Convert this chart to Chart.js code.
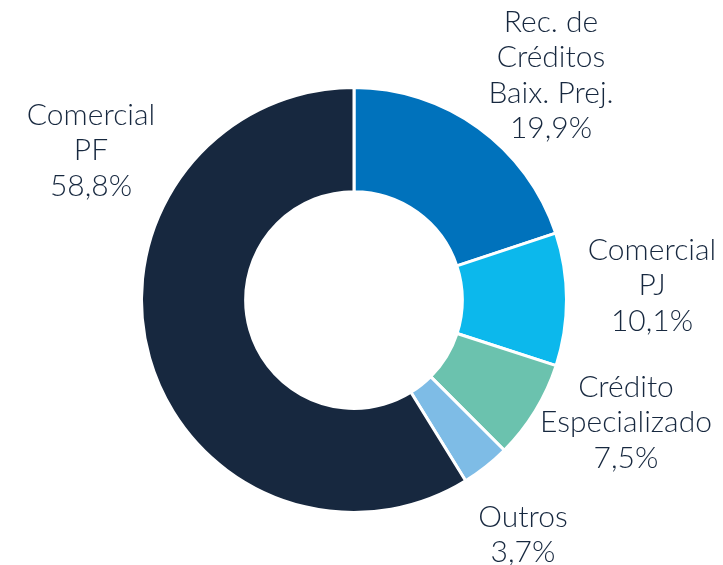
<!DOCTYPE html>
<html>
<head>
<meta charset="utf-8">
<script src="https://cdn.jsdelivr.net/npm/chart.js@4/dist/chart.umd.min.js"></script>
<style>
  html, body { margin: 0; padding: 0; background: #fff; }
  #wrap { width: 723px; height: 565px; }
</style>
</head>
<body>
<div id="wrap"><canvas id="donut" width="723" height="565"></canvas></div>
<script>
// data, clockwise from 12 o'clock
const categories = ['Rec. de Créditos Baix. Prej.', 'Comercial PJ', 'Crédito Especializado', 'Outros', 'Comercial PF'];
const shares = [19.9, 10.1, 7.5, 3.7, 58.8];
const labelLines = [
    ['Rec. de', 'Créditos', 'Baix. Prej.'],
    ['Comercial', 'PJ'],
    ['Crédito', 'Especializado'],
    ['Outros'],
    ['Comercial', 'PF'],
];
const colors = ['#0072bc', '#0cb8ec', '#6bc2ae', '#7ebce6', '#17283f'];

// label anchors: offset of the text block's top line from the donut centre
const labelOffsets = [
    { dx: 197, dy: -278 },
    { dx: 298, dy: -50 },
    { dx: 272, dy: 87 },
    { dx: 169, dy: 217 },
    { dx: -263, dy: -185 },
];

const fmt = v => v.toFixed(1).replace('.', ',') + '%';

const outsideLabels = {
    id: 'outsideLabels',
    afterDraw(chart) {
        const { ctx } = chart;
        const arc = chart.getDatasetMeta(0).data[0];
        const cx = arc.x, cy = arc.y;
        ctx.save();
        ctx.font = '300 30px Lato';
        ctx.fillStyle = '#17283f';
        ctx.textAlign = 'center';
        ctx.textBaseline = 'middle';
        const lh = 35.5;
        shares.forEach((v, i) => {
            const lines = labelLines[i].concat([fmt(v)]);
            const o = labelOffsets[i];
            lines.forEach((t, k) => ctx.fillText(t, cx + o.dx, cy + o.dy + k * lh));
        });
        ctx.restore();
    }
};

new Chart(document.getElementById('donut'), {
    type: 'doughnut',
    data: {
        labels: categories,
        datasets: [{
            data: shares,
            backgroundColor: colors,
            borderColor: '#ffffff',
            borderWidth: 3,
        }]
    },
    options: {
        responsive: false,
        animation: false,
        cutout: '51%',
        layout: { padding: { top: 86, bottom: 51, left: 140, right: 155 } },
        plugins: { legend: { display: false }, tooltip: { enabled: false } }
    },
    plugins: [outsideLabels]
});
</script>
</body>
</html>
